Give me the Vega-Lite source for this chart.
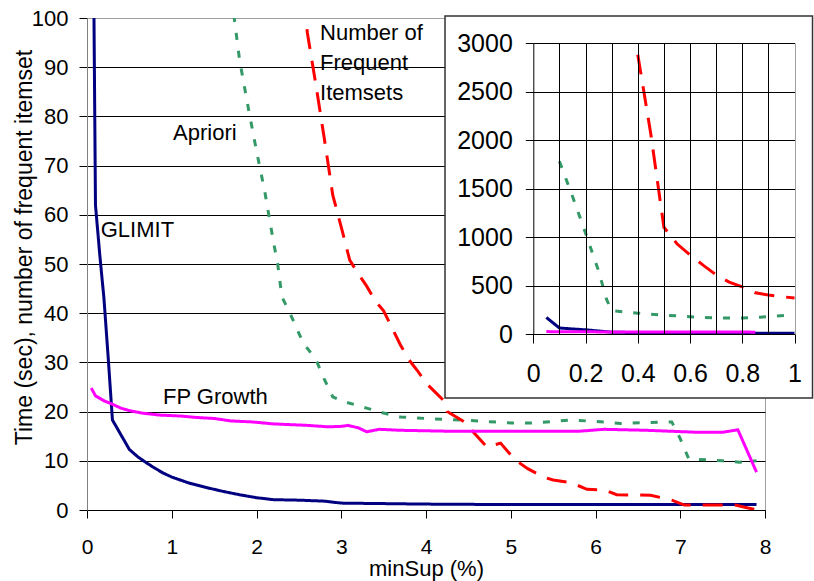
{
  "$schema": "https://vega.github.io/schema/vega-lite/v6.json",
  "width": 678,
  "height": 492,
  "autosize": {"type": "none"},
  "padding": {"left": 87, "top": 18, "right": 49, "bottom": 71},
  "background": "white",
  "config": {
    "view": {"stroke": "#a0a0a0", "strokeWidth": 1},
    "font": "Liberation Sans",
    "axis": {"labelFont": "Liberation Sans", "titleFont": "Liberation Sans", "labelColor": "#000", "titleColor": "#000", "tickColor": "#000", "domainColor": "#000", "gridColor": "#000", "gridWidth": 1, "domainWidth": 1, "tickWidth": 1, "titleFontWeight": "normal", "labelFlush": false, "labelOverlap": false}
  },
  "datasets": {
    "curves": [
      {"series": "GLIMIT", "x": 0.05, "y": 170}, {"series": "GLIMIT", "x": 0.1, "y": 62}, {"series": "GLIMIT", "x": 0.15, "y": 52}, {"series": "GLIMIT", "x": 0.2, "y": 43}, {"series": "GLIMIT", "x": 0.25, "y": 31}, {"series": "GLIMIT", "x": 0.3, "y": 18.3}, {"series": "GLIMIT", "x": 0.4, "y": 15.3}, {"series": "GLIMIT", "x": 0.5, "y": 12.3}, {"series": "GLIMIT", "x": 0.6, "y": 10.8}, {"series": "GLIMIT", "x": 0.7, "y": 9.6}, {"series": "GLIMIT", "x": 0.8, "y": 8.5}, {"series": "GLIMIT", "x": 0.9, "y": 7.5}, {"series": "GLIMIT", "x": 1.0, "y": 6.7}, {"series": "GLIMIT", "x": 1.2, "y": 5.5}, {"series": "GLIMIT", "x": 1.4, "y": 4.6}, {"series": "GLIMIT", "x": 1.6, "y": 3.8}, {"series": "GLIMIT", "x": 1.8, "y": 3.1}, {"series": "GLIMIT", "x": 2.0, "y": 2.5}, {"series": "GLIMIT", "x": 2.2, "y": 2.1}, {"series": "GLIMIT", "x": 2.5, "y": 2.0}, {"series": "GLIMIT", "x": 2.8, "y": 1.8}, {"series": "GLIMIT", "x": 3.0, "y": 1.4}, {"series": "GLIMIT", "x": 3.5, "y": 1.3}, {"series": "GLIMIT", "x": 4.0, "y": 1.2}, {"series": "GLIMIT", "x": 5.0, "y": 1.1}, {"series": "GLIMIT", "x": 6.0, "y": 1.1}, {"series": "GLIMIT", "x": 7.0, "y": 1.1}, {"series": "GLIMIT", "x": 7.9, "y": 1.1},
      {"series": "Apriori", "x": 0.1, "y": 1780}, {"series": "Apriori", "x": 0.15, "y": 1420}, {"series": "Apriori", "x": 0.2, "y": 1040}, {"series": "Apriori", "x": 0.25, "y": 650}, {"series": "Apriori", "x": 0.28, "y": 360}, {"series": "Apriori", "x": 0.3, "y": 240}, {"series": "Apriori", "x": 0.4, "y": 215}, {"series": "Apriori", "x": 0.5, "y": 195}, {"series": "Apriori", "x": 0.6, "y": 178}, {"series": "Apriori", "x": 0.7, "y": 165}, {"series": "Apriori", "x": 0.8, "y": 165}, {"series": "Apriori", "x": 0.9, "y": 178}, {"series": "Apriori", "x": 1.0, "y": 200}, {"series": "Apriori", "x": 1.8, "y": 91.5}, {"series": "Apriori", "x": 1.9, "y": 82}, {"series": "Apriori", "x": 2.0, "y": 73}, {"series": "Apriori", "x": 2.1, "y": 64.5}, {"series": "Apriori", "x": 2.2, "y": 54.5}, {"series": "Apriori", "x": 2.25, "y": 50}, {"series": "Apriori", "x": 2.3, "y": 43.3}, {"series": "Apriori", "x": 2.4, "y": 39.8}, {"series": "Apriori", "x": 2.55, "y": 34}, {"series": "Apriori", "x": 2.7, "y": 30.6}, {"series": "Apriori", "x": 2.8, "y": 26.6}, {"series": "Apriori", "x": 2.9, "y": 23}, {"series": "Apriori", "x": 3.0, "y": 22.2}, {"series": "Apriori", "x": 3.3, "y": 20.7}, {"series": "Apriori", "x": 3.5, "y": 19.7}, {"series": "Apriori", "x": 3.7, "y": 18.9}, {"series": "Apriori", "x": 4.0, "y": 18.6}, {"series": "Apriori", "x": 4.5, "y": 18.2}, {"series": "Apriori", "x": 5.0, "y": 17.7}, {"series": "Apriori", "x": 5.3, "y": 17.7}, {"series": "Apriori", "x": 5.7, "y": 18.3}, {"series": "Apriori", "x": 6.0, "y": 18.0}, {"series": "Apriori", "x": 6.3, "y": 17.6}, {"series": "Apriori", "x": 6.9, "y": 17.9}, {"series": "Apriori", "x": 7.0, "y": 14.5}, {"series": "Apriori", "x": 7.1, "y": 10.4}, {"series": "Apriori", "x": 7.5, "y": 10}, {"series": "Apriori", "x": 7.7, "y": 9.7}, {"series": "Apriori", "x": 7.9, "y": 10},
      {"series": "Freq", "x": 0.4, "y": 2880}, {"series": "Freq", "x": 0.45, "y": 2060}, {"series": "Freq", "x": 0.5, "y": 1100}, {"series": "Freq", "x": 0.55, "y": 930}, {"series": "Freq", "x": 0.6, "y": 815}, {"series": "Freq", "x": 0.65, "y": 710}, {"series": "Freq", "x": 0.7, "y": 610}, {"series": "Freq", "x": 0.75, "y": 535}, {"series": "Freq", "x": 0.8, "y": 485}, {"series": "Freq", "x": 0.85, "y": 425}, {"series": "Freq", "x": 0.9, "y": 402}, {"series": "Freq", "x": 1.0, "y": 370}, {"series": "Freq", "x": 2.6, "y": 97}, {"series": "Freq", "x": 2.7, "y": 86.5}, {"series": "Freq", "x": 2.8, "y": 75.5}, {"series": "Freq", "x": 2.9, "y": 64}, {"series": "Freq", "x": 3.0, "y": 57.5}, {"series": "Freq", "x": 3.1, "y": 50.8}, {"series": "Freq", "x": 3.2, "y": 48}, {"series": "Freq", "x": 3.3, "y": 45.5}, {"series": "Freq", "x": 3.4, "y": 42.5}, {"series": "Freq", "x": 3.5, "y": 40.5}, {"series": "Freq", "x": 3.6, "y": 37}, {"series": "Freq", "x": 3.7, "y": 33.5}, {"series": "Freq", "x": 3.8, "y": 30.5}, {"series": "Freq", "x": 3.9, "y": 28.3}, {"series": "Freq", "x": 4.0, "y": 25.8}, {"series": "Freq", "x": 4.2, "y": 22.4}, {"series": "Freq", "x": 4.25, "y": 20}, {"series": "Freq", "x": 4.5, "y": 17.4}, {"series": "Freq", "x": 4.55, "y": 16}, {"series": "Freq", "x": 4.72, "y": 12.8}, {"series": "Freq", "x": 4.88, "y": 13.6}, {"series": "Freq", "x": 5.05, "y": 10.2}, {"series": "Freq", "x": 5.2, "y": 8.4}, {"series": "Freq", "x": 5.4, "y": 6.6}, {"series": "Freq", "x": 5.5, "y": 6.1}, {"series": "Freq", "x": 5.72, "y": 5.5}, {"series": "Freq", "x": 5.9, "y": 4.2}, {"series": "Freq", "x": 6.1, "y": 4.1}, {"series": "Freq", "x": 6.25, "y": 3.1}, {"series": "Freq", "x": 6.65, "y": 3.0}, {"series": "Freq", "x": 6.9, "y": 2.0}, {"series": "Freq", "x": 7.05, "y": 1.0}, {"series": "Freq", "x": 7.65, "y": 1.0}, {"series": "Freq", "x": 7.8, "y": 0.4}, {"series": "Freq", "x": 7.9, "y": 0.1},
      {"series": "FP", "x": 0.05, "y": 24.8}, {"series": "FP", "x": 0.1, "y": 23.2}, {"series": "FP", "x": 0.2, "y": 22.2}, {"series": "FP", "x": 0.3, "y": 21.5}, {"series": "FP", "x": 0.4, "y": 20.7}, {"series": "FP", "x": 0.5, "y": 20.2}, {"series": "FP", "x": 0.65, "y": 19.7}, {"series": "FP", "x": 0.85, "y": 19.3}, {"series": "FP", "x": 1.1, "y": 19.1}, {"series": "FP", "x": 1.3, "y": 18.8}, {"series": "FP", "x": 1.5, "y": 18.6}, {"series": "FP", "x": 1.7, "y": 18.1}, {"series": "FP", "x": 1.95, "y": 17.9}, {"series": "FP", "x": 2.2, "y": 17.5}, {"series": "FP", "x": 2.6, "y": 17.2}, {"series": "FP", "x": 2.85, "y": 16.9}, {"series": "FP", "x": 3.0, "y": 17.0}, {"series": "FP", "x": 3.08, "y": 17.2}, {"series": "FP", "x": 3.2, "y": 16.7}, {"series": "FP", "x": 3.3, "y": 15.9}, {"series": "FP", "x": 3.45, "y": 16.4}, {"series": "FP", "x": 3.7, "y": 16.2}, {"series": "FP", "x": 4.3, "y": 16.0}, {"series": "FP", "x": 5.0, "y": 16.0}, {"series": "FP", "x": 5.8, "y": 16.0}, {"series": "FP", "x": 6.1, "y": 16.4}, {"series": "FP", "x": 6.6, "y": 16.2}, {"series": "FP", "x": 7.2, "y": 15.8}, {"series": "FP", "x": 7.5, "y": 15.8}, {"series": "FP", "x": 7.68, "y": 16.3}, {"series": "FP", "x": 7.9, "y": 7.7}
    ],
    "labels": [
      {"x": 1.015, "y": 76.6, "text": "Apriori"},
      {"x": 0.162, "y": 56.9, "text": "GLIMIT"},
      {"x": 0.897, "y": 23.0, "text": "FP Growth"},
      {"x": 2.75, "y": 97.0, "text": "Number of"},
      {"x": 2.75, "y": 90.8, "text": "Frequent"},
      {"x": 2.75, "y": 84.8, "text": "Itemsets"}
    ],
    "box": [
      {"x": -0.338, "x2": 1.069, "y": -660, "y2": 3278}
    ]
  },
  "layer": [
    {
      "encoding": {
        "x": {"field": "x", "type": "quantitative", "scale": {"domain": [0, 8], "nice": false, "zero": false},
          "axis": {"orient": "bottom", "values": [0, 1, 2, 3, 4, 5, 6, 7, 8], "grid": false, "tickSize": 8, "labelPadding": 18, "labelFontSize": 21, "title": "minSup (%)", "titleFontSize": 22, "titleY": 65, "titleBaseline": "alphabetic", "zindex": 0}},
        "y": {"field": "y", "type": "quantitative", "scale": {"domain": [0, 100], "nice": false, "zero": false},
          "axis": {"orient": "left", "values": [0, 10, 20, 30, 40, 50, 60, 70, 80, 90, 100], "grid": true, "gridColor": {"condition": {"test": "datum.value == 100", "value": "#a0a0a0"}, "value": "#000"}, "domainColor": "#808080", "tickSize": 8, "labelPadding": 11, "labelFontSize": 22, "title": "Time (sec), number of frequent itemset", "titleFontSize": 23, "titleX": -56, "titleY": 229, "titleBaseline": "alphabetic", "titleAlign": "center", "titleAngle": -90, "zindex": 0}}
      },
      "layer": [
        {
          "data": {"name": "curves"},
          "mark": {"type": "line", "clip": true, "strokeWidth": 3, "strokeCap": "butt"},
          "encoding": {
            "color": {"field": "series", "type": "nominal", "scale": {"domain": ["GLIMIT", "Apriori", "Freq", "FP"], "range": ["#000080", "#339966", "#ff0000", "#ff00ff"]}, "legend": null},
            "strokeDash": {"field": "series", "type": "nominal", "scale": {"domain": ["GLIMIT", "Apriori", "Freq", "FP"], "range": [[1, 0], [7, 11], [20, 12], [1, 0]]}, "legend": null}
          }
        },
        {
          "data": {"name": "labels"},
          "mark": {"type": "text", "align": "left", "baseline": "middle", "fontSize": 22, "font": "Liberation Sans", "color": "#000"},
          "encoding": {"text": {"field": "text", "type": "nominal"}}
        }
      ]
    },
    {
      "layer": [
        {
          "data": {"name": "box"},
          "mark": {"type": "rect", "fill": "white", "stroke": "#333333", "strokeWidth": 1.5},
          "encoding": {
            "x": {"field": "x", "type": "quantitative", "scale": {"domain": [0, 1], "range": [446.3, 707.5], "nice": false, "zero": false},
              "axis": {"orient": "bottom", "offset": -176, "values": [0, 0.1, 0.2, 0.3, 0.4, 0.5, 0.6, 0.7, 0.8, 0.9, 1], "grid": false, "tickSize": 9, "tickOpacity": {"condition": {"test": "round(datum.value*10)%2==0", "value": 1}, "value": 0}, "labelExpr": "round(datum.value*10)%2==0 ? format(datum.value, '~g') : ''", "labelPadding": 18, "labelFontSize": 25, "title": null, "zindex": 1}},
            "x2": {"field": "x2"},
            "y": {"field": "y", "type": "quantitative", "scale": {"domain": [0, 3000], "range": [316, 25], "nice": false, "zero": false},
              "axis": {"orient": "left", "offset": -446.3, "values": [0, 500, 1000, 1500, 2000, 2500, 3000], "format": "d", "grid": true, "tickSize": 8, "labelPadding": 13, "labelFontSize": 25, "title": null, "zindex": 1}},
            "y2": {"field": "y2"}
          }
        },
        {
          "data": {"name": "curves"},
          "transform": [{"filter": "datum.x <= 1"}],
          "mark": {"type": "line", "strokeWidth": 3, "strokeCap": "butt"},
          "encoding": {
            "x": {"field": "x", "type": "quantitative", "scale": {"domain": [0, 1], "range": [446.3, 707.5], "nice": false, "zero": false},
              "axis": {"orient": "top", "values": [0.1, 0.2, 0.3, 0.4, 0.5, 0.6, 0.7, 0.8, 0.9, 1], "grid": true, "gridColor": {"condition": {"test": "datum.value > 0.99", "value": "#a0a0a0"}, "value": "#000"}, "domain": false, "ticks": false, "labels": false, "title": null, "zindex": 1}},
            "y": {"field": "y", "type": "quantitative", "scale": {"domain": [0, 3000], "range": [316, 25], "nice": false, "zero": false}, "axis": null},
            "color": {"field": "series", "type": "nominal", "scale": {"domain": ["GLIMIT", "Apriori", "Freq", "FP"], "range": ["#000080", "#339966", "#ff0000", "#ff00ff"]}, "legend": null},
            "strokeDash": {"field": "series", "type": "nominal", "scale": {"domain": ["GLIMIT", "Apriori", "Freq", "FP"], "range": [[1, 0], [7, 11], [20, 12], [1, 0]]}, "legend": null}
          }
        }
      ],
      "resolve": {"axis": {"x": "independent", "y": "independent"}}
    }
  ],
  "resolve": {"scale": {"x": "independent", "y": "independent"}}
}
